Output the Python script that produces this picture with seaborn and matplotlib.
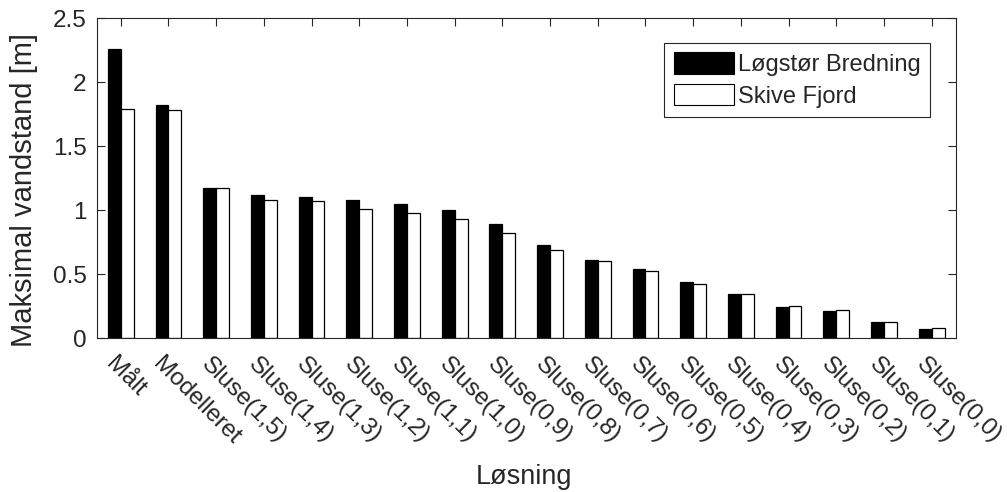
import matplotlib
matplotlib.use("Agg")
import matplotlib.pyplot as plt
import matplotlib.transforms as mtransforms
import seaborn as sns
import pandas as pd
from matplotlib.patches import Patch

categories = ["Målt", "Modelleret", "Sluse(1,5)", "Sluse(1,4)", "Sluse(1,3)", "Sluse(1,2)",
              "Sluse(1,1)", "Sluse(1,0)", "Sluse(0,9)", "Sluse(0,8)", "Sluse(0,7)", "Sluse(0,6)",
              "Sluse(0,5)", "Sluse(0,4)", "Sluse(0,3)", "Sluse(0,2)", "Sluse(0,1)", "Sluse(0,0)"]
series_names = ["Løgstør Bredning", "Skive Fjord"]
logstor = [2.26, 1.82, 1.17, 1.12, 1.10, 1.075, 1.05, 1.00, 0.893, 0.724, 0.607, 0.539,
           0.435, 0.346, 0.245, 0.213, 0.127, 0.073]
skive = [1.79, 1.78, 1.174, 1.078, 1.07, 1.008, 0.98, 0.93, 0.823, 0.69, 0.599, 0.523,
         0.424, 0.346, 0.25, 0.219, 0.127, 0.08]
y_ticks = [0, 0.5, 1, 1.5, 2, 2.5]
y_ticklabels = ["0", "0.5", "1", "1.5", "2", "2.5"]

sns.set_theme(style="white")
plt.rcParams["font.family"] = ["Liberation Sans", "DejaVu Sans"]

df = pd.DataFrame({
    "Løsning": categories * 2,
    "value": logstor + skive,
    "series": [series_names[0]] * len(categories) + [series_names[1]] * len(categories),
})

fig = plt.figure(figsize=(10.07, 4.92), dpi=100)
ax = fig.add_axes([0.0962, 0.313, 0.8527, 0.6504])

sns.barplot(data=df, x="Løsning", y="value", hue="series", order=categories,
            hue_order=series_names, palette=["black", "white"], width=0.54,
            edgecolor="black", linewidth=0.9, ax=ax, legend=False)

dark = "#262626"
ax.set_xlim(-0.5, len(categories) - 0.5)
ax.set_ylim(0, 2.5)
ax.set_yticks(y_ticks)
ax.set_yticklabels(y_ticklabels)
ax.set_xticks(range(len(categories)))
ax.set_xticklabels(categories, rotation=-45, ha="left", rotation_mode="anchor")
ax.tick_params(axis="both", direction="in", length=5.5, width=0.8, colors=dark,
               labelsize=17.5, top=True, right=True, left=True, bottom=True)
ax.tick_params(axis="x", pad=11)
ax.tick_params(axis="y", pad=7.5)
shift = mtransforms.ScaledTranslation(-4 / 100, 0, fig.dpi_scale_trans)
for lbl in ax.get_xticklabels():
    lbl.set_transform(lbl.get_transform() + shift)
for s in ax.spines.values():
    s.set_visible(True)
    s.set_color(dark)
    s.set_linewidth(0.8)

ax.set_xlabel("Løsning", fontsize=19.5, color=dark)
ax.xaxis.set_label_coords(0.497, -0.393)
ax.set_ylabel("Maksimal vandstand [m]", fontsize=21, color=dark)
ax.yaxis.set_label_coords(-0.069, 0.461)

handles = [Patch(facecolor="black", edgecolor="black", linewidth=0.8),
           Patch(facecolor="white", edgecolor="black", linewidth=0.8)]
leg = ax.legend(handles, series_names, loc="upper right", bbox_to_anchor=(0.970, 0.922),
                fontsize=17, frameon=True, fancybox=False, framealpha=1,
                edgecolor=dark, handlelength=2.55, handleheight=1.05, handletextpad=0.15,
                borderpad=0.4, labelspacing=0.3, borderaxespad=0)
leg.get_frame().set_linewidth(0.8)
for t in leg.get_texts():
    t.set_color(dark)

fig.savefig("out.png", dpi=100)
